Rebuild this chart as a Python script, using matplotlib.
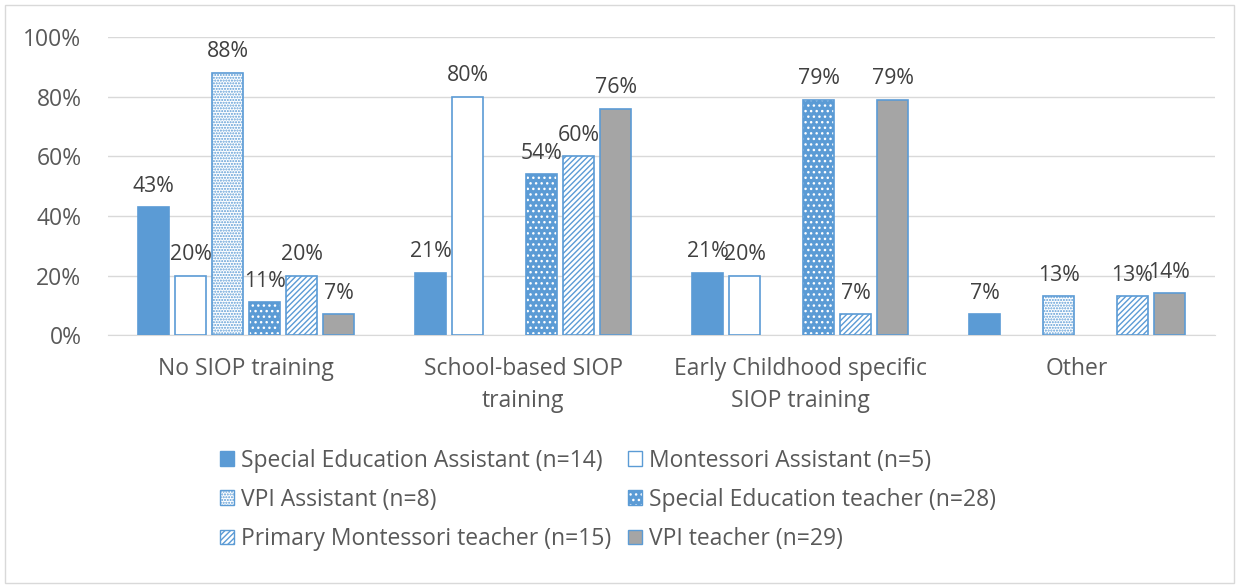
import matplotlib.pyplot as plt
import numpy as np
from matplotlib.patches import Patch, Rectangle
from matplotlib.legend_handler import HandlerTuple

plt.rcParams["font.family"] = ["Open Sans", "DejaVu Sans"]

# ── data ──────────────────────────────────────────────────────────────────────
categories = ["No SIOP training", "School-based SIOP\ntraining",
              "Early Childhood specific\nSIOP training", "Other"]
series = ["Special Education Assistant (n=14)", "Montessori Assistant (n=5)",
          "VPI Assistant (n=8)", "Special Education teacher (n=28)",
          "Primary Montessori teacher (n=15)", "VPI teacher (n=29)"]
sped_assistant   = [43, 21, 21, 7]
mont_assistant   = [20, 80, 20, 0]
vpi_assistant    = [88, 0, 0, 13]
sped_teacher     = [11, 54, 79, 0]
primary_mont     = [20, 60, 7, 13]
vpi_teacher      = [7, 76, 79, 14]
values = [sped_assistant, mont_assistant, vpi_assistant,
          sped_teacher, primary_mont, vpi_teacher]

BLUE = "#5B9BD5"
GREY = "#A5A5A5"
FS = 16.5
# (face, hatch colour, hatch)
styles = [
    (BLUE, BLUE, None),
    ("white", BLUE, None),
    ("white", BLUE, "......"),
    (BLUE, "white", "..."),
    ("white", BLUE, "//////"),
    (GREY, BLUE, None),
]

fig = plt.figure(figsize=(12.39, 5.88), dpi=100)
ax = fig.add_axes([0.087, 0.43, 0.894, 0.507])

x = np.arange(len(categories))
pitch = 0.1336
width = 0.112
for i, (vals, (fc, hc, hatch)) in enumerate(zip(values, styles)):
    pos = x + (i - 2.5) * pitch
    h = [v if v > 0 else np.nan for v in vals]
    if hatch:
        ax.bar(pos, h, width, color=fc, edgecolor=hc, hatch=hatch, lw=0, zorder=2)
    ax.bar(pos, h, width, facecolor=fc if not hatch else "none",
           edgecolor=BLUE, lw=1.2, zorder=3)
    for p, v in zip(pos, vals):
        if v > 0:
            ax.text(p, v + 3.5, f"{v}%", ha="center", va="bottom",
                    fontsize=15.3, color="#404040")

ax.set_xlim(-0.5, 3.5)
ax.set_ylim(0, 100)
ax.set_yticks(range(0, 101, 20))
ax.set_yticklabels([f"{t}%" for t in range(0, 101, 20)])
ax.set_xticks(x)
ax.set_xticklabels(categories, linespacing=1.45)
ax.tick_params(axis="both", length=0, labelsize=FS, labelcolor="#595959")
ax.tick_params(axis="x", pad=16)
ax.tick_params(axis="y", pad=19)
ax.grid(axis="y", color="#D9D9D9", lw=1)
ax.set_axisbelow(True)
for s in ["top", "right", "left"]:
    ax.spines[s].set_visible(False)
ax.spines["bottom"].set_color("#D9D9D9")

# legend handles
handles = []
for fc, hc, hatch in styles:
    if hatch:
        handles.append((Patch(facecolor=fc, edgecolor=hc, hatch=hatch, lw=0),
                        Patch(facecolor="none", edgecolor=BLUE, lw=1)))
    else:
        handles.append(Patch(facecolor=fc, edgecolor=BLUE, lw=1))
order = [0, 2, 4, 1, 3, 5]
fig.legend([handles[i] for i in order], [series[i] for i in order],
           loc="upper left", bbox_to_anchor=(0.161, 0.272), ncol=2, frameon=False,
           fontsize=FS, labelcolor="#595959", handlelength=0.6, handleheight=0.6,
           handletextpad=0.3, columnspacing=0.75, labelspacing=0.66,
           handler_map={tuple: HandlerTuple(ndivide=1, pad=0)})

fig.add_artist(Rectangle((0.004, 0.008), 0.992, 0.984, transform=fig.transFigure,
                         fill=False, edgecolor="#D9D9D9", lw=1))

fig.savefig("out.png", dpi=100)
